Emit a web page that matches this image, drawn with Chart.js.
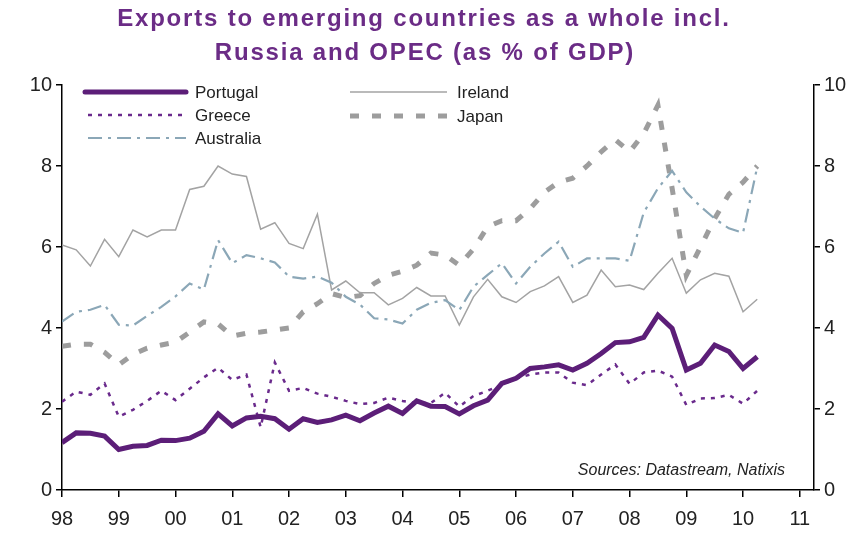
<!DOCTYPE html>
<html>
<head>
<meta charset="utf-8">
<script src="https://cdn.jsdelivr.net/npm/chart.js@4/dist/chart.umd.min.js"></script>
<style>
  html, body { margin: 0; padding: 0; background: #fff; }
  #wrap { width: 868px; height: 541px; }
</style>
</head>
<body>
<div id="wrap"><canvas id="chart" width="868" height="541"></canvas></div>
<script>
// quarterly data, 1998Q1 .. 2010Q2
const startYear = 1998;
const yearTicks = ['98','99','00','01','02','03','04','05','06','07','08','09','10','11'];

const portugal = [1.17,1.41,1.40,1.33,1.00,1.08,1.10,1.23,1.22,1.28,
  1.45,1.88,1.58,1.78,1.82,1.76,1.50,1.76,1.67,1.73,
  1.85,1.71,1.90,2.07,1.89,2.20,2.07,2.06,1.88,2.08,
  2.22,2.63,2.76,3.00,3.04,3.09,2.96,3.13,3.37,3.64,
  3.66,3.77,4.32,3.99,2.96,3.13,3.58,3.42,3.00,3.29];
const greece = [2.18,2.43,2.35,2.63,1.81,1.98,2.20,2.45,2.22,2.50,
  2.78,3.02,2.72,2.85,1.55,3.15,2.45,2.52,2.38,2.30,
  2.20,2.12,2.15,2.28,2.20,2.14,2.15,2.40,2.06,2.32,
  2.45,2.60,2.75,2.85,2.90,2.90,2.65,2.59,2.85,3.10,
  2.62,2.90,2.95,2.80,2.10,2.26,2.27,2.35,2.13,2.45];
const ireland = [6.05,5.93,5.53,6.19,5.76,6.42,6.25,6.42,6.42,7.42,
  7.50,8.00,7.80,7.74,6.44,6.60,6.09,5.96,6.81,4.94,
  5.16,4.87,4.87,4.57,4.73,5.00,4.79,4.79,4.07,4.77,
  5.20,4.77,4.63,4.90,5.04,5.27,4.63,4.81,5.43,5.02,
  5.06,4.95,5.35,5.72,4.86,5.19,5.35,5.28,4.40,4.71];
const australia = [4.16,4.40,4.45,4.57,4.08,4.06,4.30,4.52,4.78,5.10,
  4.95,6.17,5.60,5.80,5.72,5.62,5.27,5.22,5.27,5.12,
  4.77,4.58,4.24,4.21,4.11,4.45,4.62,4.69,4.44,5.02,
  5.31,5.60,5.10,5.51,5.84,6.13,5.51,5.72,5.72,5.72,
  5.66,6.85,7.45,7.88,7.35,7.00,6.70,6.46,6.35,7.98];
const japan = [3.55,3.60,3.60,3.40,3.09,3.35,3.50,3.58,3.65,3.90,
  4.15,4.10,3.80,3.87,3.90,3.95,4.00,4.40,4.60,4.85,
  4.75,4.80,5.10,5.30,5.40,5.55,5.85,5.80,5.55,5.95,
  6.50,6.65,6.65,6.95,7.35,7.60,7.70,8.00,8.35,8.65,
  8.35,8.80,9.50,7.45,5.30,6.00,6.70,7.30,7.60,8.00];

const PURPLE = '#5c1e78';
const GREECE = '#6a2a8c';
const AUS = '#8ba7b7';
const GREY = '#a3a3a3';
const JGREY = '#9d9d9d';

const toPoints = arr => arr.map((v, i) => ({ x: startYear + i / 4, y: v }));

const series = [
  { label: 'Portugal', data: portugal, color: PURPLE, width: 5, dash: [] },
  { label: 'Greece', data: greece, color: GREECE, width: 2.5, dash: [4, 6] },
  { label: 'Australia', data: australia, color: AUS, width: 2.2, dash: [14, 6, 3, 6] },
  { label: 'Ireland', data: ireland, color: GREY, width: 1.5, dash: [] },
  { label: 'Japan', data: japan, color: JGREY, width: 5, dash: [9, 13] }
];

// title, legend and source text
const decor = {
  id: 'decor',
  afterDraw(chart) {
    const ctx = chart.ctx;
    ctx.save();
    ctx.fillStyle = '#6b2c86';
    ctx.font = 'bold 24px "Liberation Sans", Arial, sans-serif';
    ctx.textAlign = 'center';
    ctx.textBaseline = 'middle';
    ctx.letterSpacing = '1.8px';
    ctx.fillText('Exports to emerging countries as a whole incl.', 424, 19);
    ctx.fillText('Russia and OPEC (as % of GDP)', 425, 53);
    ctx.letterSpacing = '0px';

    const items = [
      { s: series[0], x1: 85, x2: 186, tx: 195, y: 92 },
      { s: series[1], x1: 88, x2: 186, tx: 195, y: 115 },
      { s: series[2], x1: 88, x2: 186, tx: 195, y: 138 },
      { s: series[3], x1: 350, x2: 447, tx: 457, y: 92 },
      { s: series[4], x1: 350, x2: 447, tx: 457, y: 116 }
    ];
    ctx.font = '17px "Liberation Sans", Arial, sans-serif';
    ctx.textAlign = 'left';
    items.forEach(it => {
      ctx.beginPath();
      ctx.strokeStyle = it.s.color;
      ctx.lineWidth = it.s.width;
      ctx.lineCap = it.s.width > 4 && it.s.dash.length === 0 ? 'round' : 'butt';
      ctx.setLineDash(it.s.dash);
      ctx.moveTo(it.x1, it.y);
      ctx.lineTo(it.x2, it.y);
      ctx.stroke();
      ctx.setLineDash([]);
      ctx.fillStyle = '#222';
      ctx.fillText(it.s.label, it.tx, it.y + 1);
    });

    ctx.font = 'italic 16px "Liberation Sans", Arial, sans-serif';
    ctx.textAlign = 'right';
    ctx.fillStyle = '#222';
    ctx.fillText('Sources: Datastream, Natixis', 785, 471);
    ctx.restore();
  }
};

const axisY = (pos, w) => ({
  type: 'linear',
  position: pos,
  min: 0,
  max: 10,
  border: { display: true, color: '#000', width: 1.5 },
  grid: { drawOnChartArea: false, drawTicks: true, tickLength: 6, color: '#000', lineWidth: 1.5 },
  ticks: { stepSize: 2, color: '#222', padding: 4, font: { size: 20, family: '"Liberation Sans", Arial, sans-serif' } },
  afterFit(scale) { scale.width = w; }
});

new Chart(document.getElementById('chart'), {
  type: 'line',
  data: {
    datasets: series.map(s => ({
      label: s.label,
      data: toPoints(s.data),
      borderColor: s.color,
      borderWidth: s.width,
      borderDash: s.dash,
      pointRadius: 0,
      tension: 0,
      fill: false,
      yAxisID: 'y'
    }))
  },
  options: {
    responsive: false,
    animation: false,
    layout: { padding: { top: 85, left: 0, right: 0, bottom: 0 } },
    plugins: { legend: { display: false }, title: { display: false }, tooltip: { enabled: false } },
    scales: {
      x: {
        type: 'linear',
        min: 1998,
        max: 2011.25,
        border: { display: true, color: '#000', width: 1.5 },
        grid: { drawOnChartArea: false, drawTicks: true, tickLength: 7, color: '#000', lineWidth: 1.5 },
        ticks: {
          color: '#222',
          padding: 10,
          maxRotation: 0,
          autoSkip: false,
          font: { size: 20, family: '"Liberation Sans", Arial, sans-serif' },
          callback: v => yearTicks[v - startYear]
        },
        afterBuildTicks(scale) { scale.ticks = yearTicks.map((_, i) => ({ value: startYear + i })); },
        afterFit(scale) { scale.height = 51; }
      },
      y: axisY('left', 62),
      y2: axisY('right', 54)
    }
  },
  plugins: [decor]
});
</script>
</body>
</html>
